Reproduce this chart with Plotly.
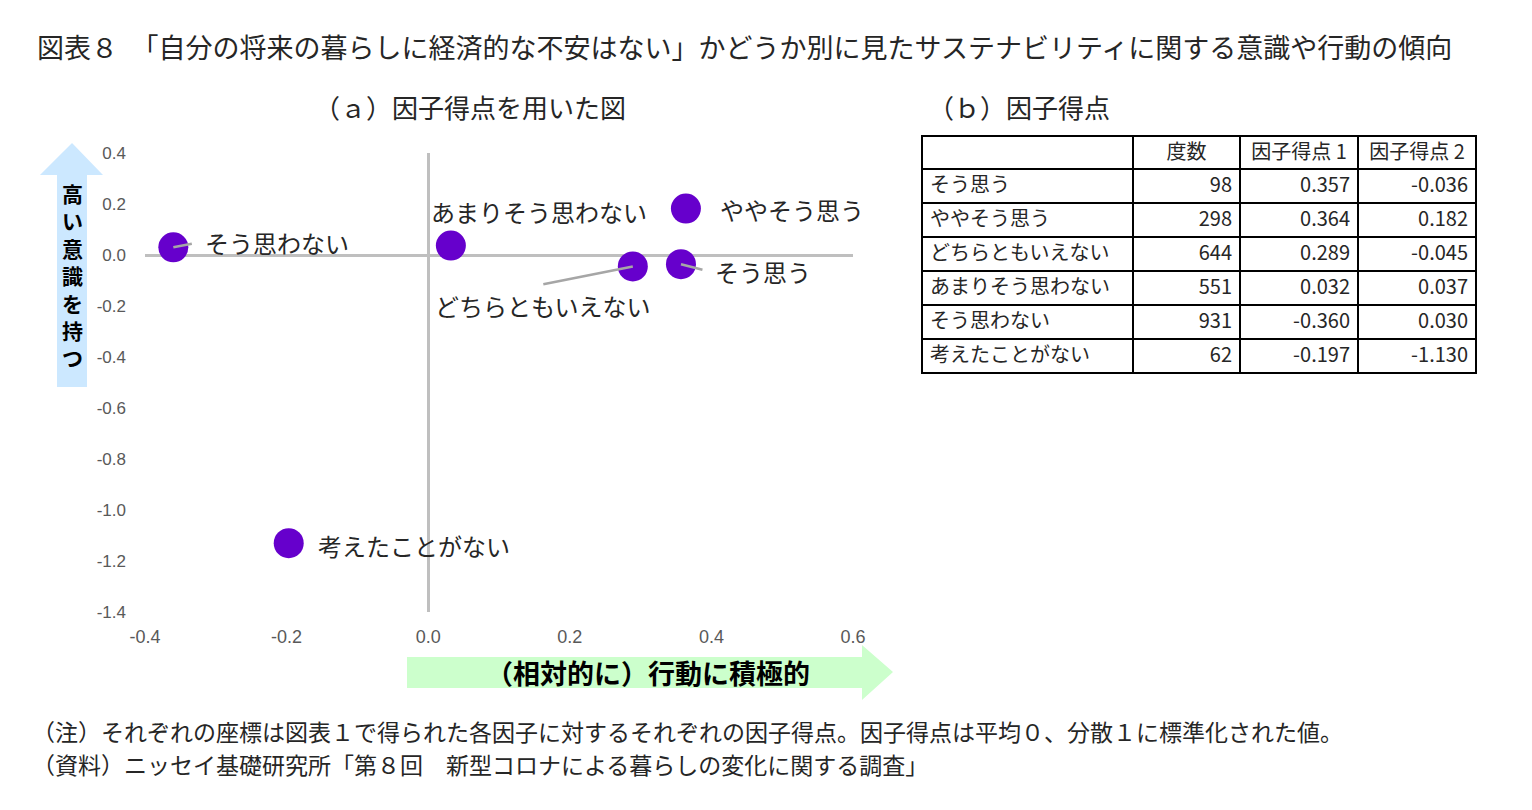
import plotly.graph_objects as go

categories = ["そう思う", "ややそう思う", "どちらともいえない", "あまりそう思わない", "そう思わない", "考えたことがない"]
counts = [98, 298, 644, 551, 931, 62]
factor1 = [0.357, 0.364, 0.289, 0.032, -0.360, -0.197]
factor2 = [-0.036, 0.182, -0.045, 0.037, 0.030, -1.130]
x_ticks = [-0.4, -0.2, 0.0, 0.2, 0.4, 0.6]
y_ticks = [-1.4, -1.2, -1.0, -0.8, -0.6, -0.4, -0.2, 0.0, 0.2, 0.4]
table_header = ["", "度数", "因子得点 1", "因子得点 2"]

W, H = 1532, 810
FONT = "Noto Sans CJK JP"
PURPLE = "#6600CC"
GRAY = "#BFBFBF"
TEXT = "#262626"


def px(x):
    return x / W


def py(y):
    return 1 - y / H


# label placement (pixel offsets from the point: text centre, leader end)
label_pos = {
    "そう思う": (82, 7, (23, 6)),
    "ややそう思う": (106, 1, None),
    "どちらともいえない": (-90, 39, (-91, 18)),
    "あまりそう思わない": (88, -34, None),
    "そう思わない": (104, -5, (20, -4)),
    "考えたことがない": (125, 2, None),
}

fig = go.Figure()

fig.add_trace(go.Scatter(
    x=factor1, y=factor2, mode="markers",
    marker=dict(size=30, color=PURPLE, line=dict(width=0)),
    cliponaxis=False, showlegend=False, hoverinfo="skip",
))

fig.add_trace(go.Table(
    domain=dict(x=[px(922), px(1476)], y=[py(380), py(136)]),
    columnwidth=[211, 107, 118, 118],
    header=dict(
        values=table_header, align="center", height=33,
        line=dict(color="black", width=1.5), fill=dict(color="white"),
        font=dict(family=FONT, size=20, color=TEXT),
    ),
    cells=dict(
        values=[categories, counts, factor1, factor2],
        format=["", "d", ".3f", ".3f"],
        align=["left", "right", "right", "right"], height=34,
        line=dict(color="black", width=1.5), fill=dict(color="white"),
        font=dict(family=FONT, size=20, color=TEXT),
    ),
))

annotations = []
for cat, fx, fy in zip(categories, factor1, factor2):
    dx, dy, leader = label_pos[cat]
    if leader is not None:
        annotations.append(dict(
            x=fx, y=fy, xref="x", yref="y", text=" ", font=dict(size=1),
            showarrow=True, arrowhead=0, arrowwidth=2.5, arrowcolor="#A6A6A6",
            ax=leader[0], ay=leader[1], standoff=0,
        ))
    annotations.append(dict(
        x=fx, y=fy, xref="x", yref="y", text=cat, showarrow=False,
        xshift=dx, yshift=-dy, font=dict(family=FONT, size=24, color=TEXT),
    ))

# vertical axis caption, one character per line
for i, ch in enumerate("高い意識を持つ"):
    annotations.append(dict(
        x=px(72), y=py(193 + i * 27.4), xref="paper", yref="paper",
        xanchor="center", yanchor="middle", text=ch, showarrow=False,
        font=dict(family=FONT, size=21, color="black", weight="bold"),
    ))

annotations += [
    dict(x=px(35), y=py(47), xref="paper", yref="paper", xanchor="left", yanchor="middle",
         text="図表８　「自分の将来の暮らしに経済的な不安はない」かどうか別に見たサステナビリティに関する意識や行動の傾向",
         showarrow=False, font=dict(family=FONT, size=27, color=TEXT)),
    dict(x=px(470), y=py(107), xref="paper", yref="paper", xanchor="center", yanchor="middle",
         text="（ａ）因子得点を用いた図", showarrow=False, font=dict(family=FONT, size=26, color=TEXT)),
    dict(x=px(926), y=py(107), xref="paper", yref="paper", xanchor="left", yanchor="middle",
         text="（ｂ）因子得点", showarrow=False, font=dict(family=FONT, size=26, color=TEXT)),
    dict(x=px(648), y=py(672), xref="paper", yref="paper", xanchor="center", yanchor="middle",
         text="（相対的に）行動に積極的", showarrow=False,
         font=dict(family=FONT, size=27, color="black", weight="bold")),
    dict(x=px(30), y=py(731), xref="paper", yref="paper", xanchor="left", yanchor="middle",
         text="（注）それぞれの座標は図表１で得られた各因子に対するそれぞれの因子得点。因子得点は平均０、分散１に標準化された値。",
         showarrow=False, font=dict(family=FONT, size=23, color=TEXT)),
    dict(x=px(30), y=py(764), xref="paper", yref="paper", xanchor="left", yanchor="middle",
         text="（資料）ニッセイ基礎研究所「第８回　新型コロナによる暮らしの変化に関する調査」",
         showarrow=False, font=dict(family=FONT, size=23, color=TEXT)),
]


def poly(points):
    return "M " + " L ".join(f"{px(a):.5f},{py(b):.5f}" for a, b in points) + " Z"


shapes = [
    dict(type="path", xref="paper", yref="paper", line=dict(width=0), fillcolor="#CCE8FF",
         path=poly([(57, 387), (87, 387), (87, 175), (103, 175), (72, 143), (40, 175), (57, 175)])),
    dict(type="path", xref="paper", yref="paper", line=dict(width=0), fillcolor="#CCFFCC",
         path=poly([(407, 657), (862, 657), (862, 645), (893, 672), (862, 700), (862, 688), (407, 688)])),
]

fig.update_layout(
    width=W, height=H,
    margin=dict(l=0, r=0, t=0, b=0),
    paper_bgcolor="white", plot_bgcolor="white",
    font=dict(family=FONT, color=TEXT),
    xaxis=dict(domain=[px(145), px(853)], range=[-0.4, 0.6],
               tickvals=x_ticks, ticktext=[f"{v:.1f}" for v in x_ticks],
               showgrid=False, zeroline=True, zerolinecolor=GRAY, zerolinewidth=3,
               showline=False, ticks="", ticklabelstandoff=12,
               tickfont=dict(family="Liberation Sans", size=18, color="#595959"),
               automargin=False),
    yaxis=dict(domain=[py(612), py(153)], range=[-1.4, 0.4],
               tickvals=y_ticks, ticktext=[f"{v:.1f}" for v in y_ticks],
               showgrid=False, zeroline=True, zerolinecolor=GRAY, zerolinewidth=3,
               showline=False, ticks="", ticklabelstandoff=18,
               tickfont=dict(family="Liberation Sans", size=17, color="#595959"),
               automargin=False),
    annotations=annotations,
    shapes=shapes,
)

fig.write_html("out.html", config={"displayModeBar": False},
               post_script="document.body.style.margin='0';document.body.style.overflow='hidden';")
